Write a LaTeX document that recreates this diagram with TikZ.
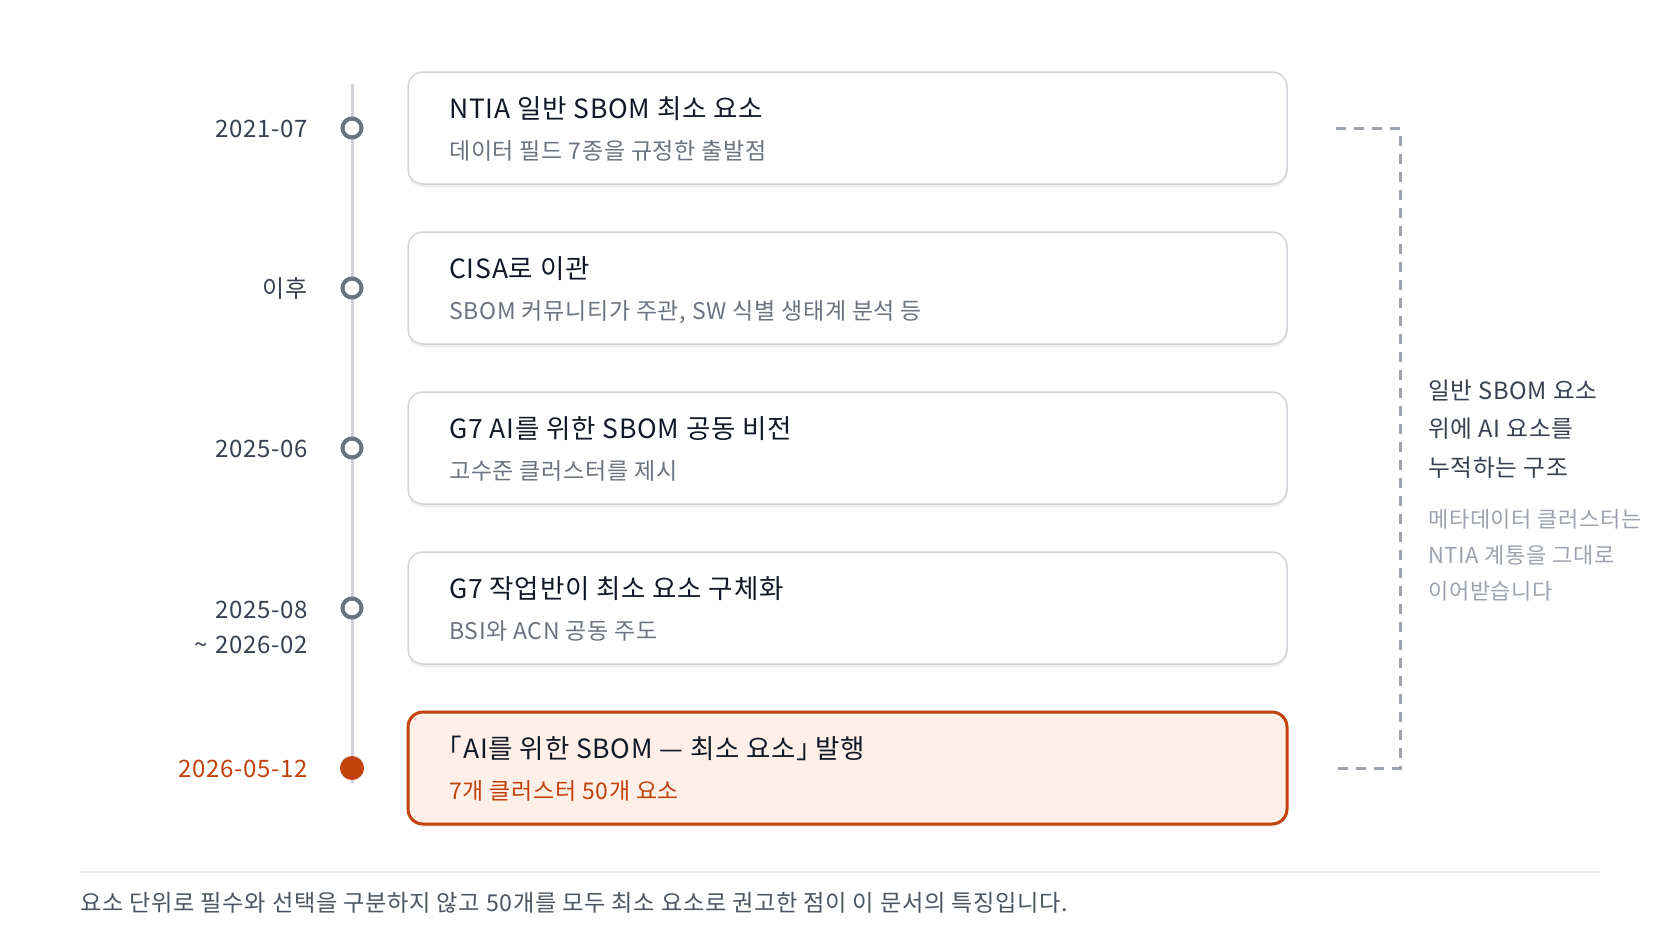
\documentclass[tikz,border=0pt]{standalone}
\usepackage{fontspec}
\setmainfont{Noto Sans CJK KR}[LetterSpace=3, Numbers=Proportional]
\usetikzlibrary{calc,shadows}
\definecolor{ink}{HTML}{111827}
\definecolor{subc}{HTML}{6B7280}
\definecolor{datec}{HTML}{374151}
\definecolor{ringc}{HTML}{6B7280}
\definecolor{tlc}{HTML}{D1D5DB}
\definecolor{cardline}{HTML}{D1D5DB}
\definecolor{accent}{HTML}{C2410C}
\definecolor{accentbg}{HTML}{FEF0E8}
\definecolor{bracketc}{HTML}{9CA3AF}
\definecolor{notec}{HTML}{374151}
\definecolor{notegray}{HTML}{9CA3AF}
\definecolor{footc}{HTML}{4B5563}
\definecolor{footline}{HTML}{E5E7EB}
\tikzset{
  card/.style={draw=cardline, line width=1.5pt, rounded corners=15pt, fill=white,
    minimum width=879pt, minimum height=112pt, inner sep=0pt, outer sep=0pt,
    drop shadow={shadow xshift=0pt, shadow yshift=-3pt, opacity=0.07, fill=black}},
  cardhot/.style={card, draw=accent, line width=3pt, fill=accentbg},
  ttl/.style={font=\fontsize{26.5}{30}\selectfont, text=ink, anchor=base west, inner sep=0pt},
  sub/.style={font=\fontsize{23}{26}\selectfont, text=subc, anchor=base west, inner sep=0pt},
  subhot/.style={sub, text=accent},
  datelbl/.style={font=\fontsize{24}{28}\selectfont, text=datec, anchor=base east, inner sep=0pt},
  datehot/.style={datelbl, text=accent},
  ring/.style={circle, draw=ringc, line width=4pt, fill=white, minimum size=19pt, inner sep=0pt},
  dot/.style={circle, fill=accent, minimum size=24pt, inner sep=0pt},
  tline/.style={draw=tlc, line width=3pt},
  bracket/.style={draw=bracketc, line width=3pt, dash pattern=on 10pt off 8pt},
  notedark/.style={font=\fontsize{23.7}{27}\selectfont, text=notec, anchor=base west, inner sep=0pt},
  notelight/.style={font=\fontsize{22}{25}\selectfont, text=notegray, anchor=base west, inner sep=0pt},
  foot/.style={font=\fontsize{23.2}{26}\selectfont, text=footc, anchor=base west, inner sep=0pt},
  rule/.style={draw=footline, line width=2pt}
}
\begin{document}
\begin{tikzpicture}[x=1pt,y=-1pt]
\useasboundingbox (0,0) rectangle (1680,932);
\fill[white] (0,0) rectangle (1680,932);

% timeline
\coordinate (ltop) at (352,84);
\coordinate (lbot) at (352,783);
\draw[tline] (ltop) -- (lbot);

% cards
\node[card] (c1) at (847.5,128) {};
\node[card] (c2) at (847.5,288) {};
\node[card] (c3) at (847.5,448) {};
\node[card] (c4) at (847.5,608) {};
\node[cardhot] (c5) at (847.5,768) {};

\node[ttl] (t1) at ($(c1.north west)+(41,46)$) {NTIA 일반 SBOM 최소 요소};
\node[sub] (s1) at ($(c1.north west)+(41,87)$) {데이터 필드 7종을 규정한 출발점};
\node[ttl] (t2) at ($(c2.north west)+(41,46)$) {CISA로 이관};
\node[sub] (s2) at ($(c2.north west)+(41,87)$) {SBOM 커뮤니티가 주관, SW 식별 생태계 분석 등};
\node[ttl] (t3) at ($(c3.north west)+(41,46)$) {G7 AI를 위한 SBOM 공동 비전};
\node[sub] (s3) at ($(c3.north west)+(41,87)$) {고수준 클러스터를 제시};
\node[ttl] (t4) at ($(c4.north west)+(41,46)$) {G7 작업반이 최소 요소 구체화};
\node[sub] (s4) at ($(c4.north west)+(41,87)$) {BSI와 ACN 공동 주도};
\node[ttl] (t5) at ($(c5.north west)+(41,46)$) {\kern-0.5em「AI를 위한 SBOM — 최소 요소」\kern-0.3em 발행};
\node[subhot] (s5) at ($(c5.north west)+(41,87)$) {7개 클러스터 50개 요소};

% markers
\node[ring] (m1) at (352,128) {};
\node[ring] (m2) at (352,288) {};
\node[ring] (m3) at (352,448) {};
\node[ring] (m4) at (352,608) {};
\node[dot] (m5) at (352,768) {};

% dates
\node[datelbl] (d1) at (308,137) {2021-07};
\node[datelbl] (d2) at (308,297) {이후};
\node[datelbl] (d3) at (308,457) {2025-06};
\node[datelbl] (d4a) at (308,618) {2025-08};
\node[datelbl] (d4b) at (308,653) {\textasciitilde\hspace{0.3em}2026-02};
\node[datehot] (d5) at (308,777) {2026-05-12};

% bracket
\coordinate (b1) at (1336,128);
\coordinate (b2) at (1400,128);
\coordinate (b3) at (1400,768);
\coordinate (b4) at (1338,768);
\draw[bracket] (b1) -- (b2) -- (b3) -- (b4);

% notes
\node[notedark] (n1) at (1428,399) {일반 SBOM 요소};
\node[notedark] (n2) at (1428,437) {위에 AI 요소를};
\node[notedark] (n3) at (1428,476) {누적하는 구조};
\node[notelight] (g1) at (1428,527) {메타데이터 클러스터는};
\node[notelight] (g2) at (1428,563) {NTIA 계통을 그대로};
\node[notelight] (g3) at (1428,599) {이어받습니다};

% footer
\coordinate (f1) at (80,872);
\coordinate (f2) at (1599,872);
\draw[rule] (f1) -- (f2);
\node[foot] (ft) at (80,911) {요소 단위로 필수와 선택을 구분하지 않고 50개를 모두 최소 요소로 권고한 점이 이 문서의 특징입니다.};
\end{tikzpicture}
\end{document}
